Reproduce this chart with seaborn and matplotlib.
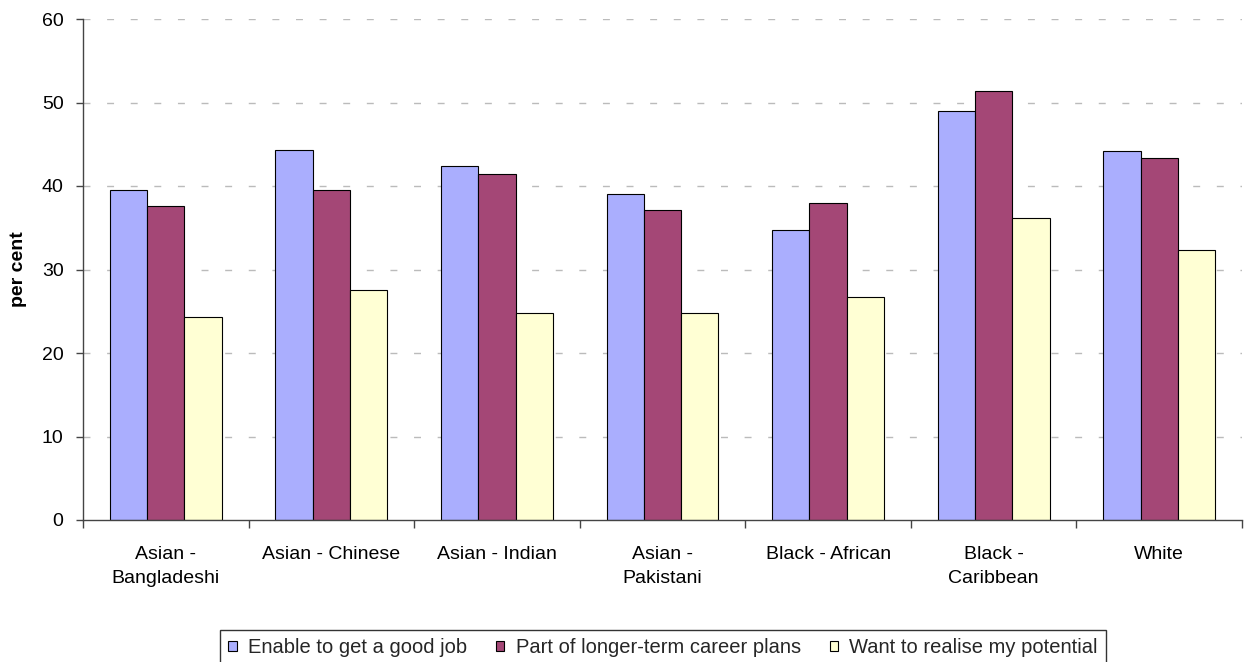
import matplotlib
matplotlib.use("Agg")
import matplotlib.pyplot as plt
import seaborn as sns
import pandas as pd
import numpy as np

# Reasons for staying in education, by ethnic group (per cent)
groups = ["Asian -\nBangladeshi", "Asian - Chinese", "Asian - Indian", "Asian -\nPakistani",
          "Black - African", "Black -\nCaribbean", "White"]
series = ["Enable to get a good job", "Part of longer-term career plans", "Want to realise my potential"]
good_job = [39.5, 44.3, 42.4, 39.0, 34.7, 49.0, 44.2]
career_plans = [37.6, 39.5, 41.4, 37.1, 38.0, 51.4, 43.3]
potential = [24.3, 27.6, 24.8, 24.8, 26.7, 36.2, 32.3]
colors = ["#AAAEFE", "#A44776", "#FFFFD4"]
yticks = [0, 10, 20, 30, 40, 50, 60]

df = pd.DataFrame({
    "group": groups * 3,
    "series": np.repeat(series, len(groups)),
    "value": good_job + career_plans + potential,
})

sns.set_theme(style="white")
plt.rcParams["font.family"] = ["Liberation Sans", "DejaVu Sans"]

fig = plt.figure(figsize=(12.52, 6.62), dpi=100)
ax = fig.add_axes([83 / 1252, 142 / 662, 1159 / 1252, 501 / 662])

sns.barplot(data=df, x="group", y="value", hue="series", order=groups, hue_order=series,
            palette=colors, width=0.675, edgecolor="black", linewidth=0.8,
            saturation=1, ax=ax, legend=True)

ax.set_ylim(0, 60)
ax.set_xlim(-0.5, len(groups) - 0.5)
ax.set_yticks(yticks)
ax.set_yticklabels([str(t) for t in yticks], fontsize=14, color="black")
ax.set_xticks(range(len(groups)))
ax.set_xticklabels(groups, fontsize=14, color="black", linespacing=1.5)
ax.tick_params(axis="x", which="major", length=0, pad=19)
ax.set_xticks(np.arange(-0.5, len(groups)), minor=True)
ax.tick_params(axis="x", which="minor", length=6, width=1, color="#444444", direction="out", bottom=True)
ax.tick_params(axis="y", length=5, width=1, color="#444444", direction="out", left=True, pad=9)

for t in yticks[1:]:
    ax.axhline(t, color="#BBBBBB", linewidth=1, linestyle=(0, (5, 12)), zorder=0)

for side in ["top", "right"]:
    ax.spines[side].set_visible(False)
for side in ["left", "bottom"]:
    ax.spines[side].set_color("#444444")
    ax.spines[side].set_linewidth(1)

ax.set_xlabel("")
ax.set_ylabel("per cent", fontsize=14, fontweight="bold", color="black")
ax.yaxis.set_label_coords(-56 / 1159, 0.5)

handles, labels = ax.get_legend_handles_labels()
ax.legend_.remove()
leg = fig.legend(handles, labels, ncol=3, loc="upper center", bbox_to_anchor=(663 / 1252, 1 - 630 / 662),
                 fontsize=14.5, frameon=True, fancybox=False, edgecolor="black",
                 handlelength=0.42, handleheight=0.42, handletextpad=0.55, columnspacing=1.45,
                 borderpad=0.4, borderaxespad=0)
leg.get_frame().set_linewidth(1)

fig.savefig("out.png", dpi=100, facecolor="white")
